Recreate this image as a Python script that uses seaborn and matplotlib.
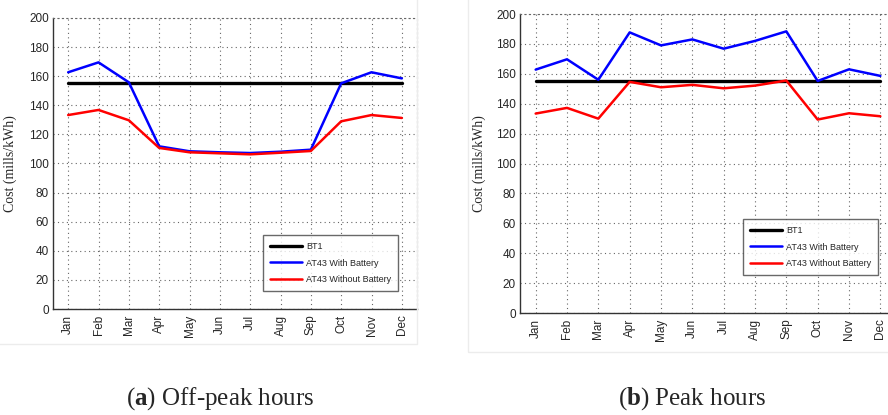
import numpy as np
import pandas as pd
import matplotlib
matplotlib.use("Agg")
import matplotlib.pyplot as plt
import seaborn as sns
from matplotlib.patches import Rectangle

# Monthly cost values (mills/kWh)
months = ['Jan', 'Feb', 'Mar', 'Apr', 'May', 'Jun', 'Jul', 'Aug', 'Sep', 'Oct', 'Nov', 'Dec']
bt1 = [155] * 12

offpeak_with = [162.7, 169.5, 155.8, 111.8, 108.4, 107.7, 107.2, 108.1, 109.5, 155.1, 162.7, 158.5]
offpeak_without = [133.3, 136.8, 129.7, 110.7, 107.7, 107.0, 106.3, 107.4, 108.6, 129.0, 133.3, 131.3]

peak_with = [162.8, 169.7, 156.0, 187.7, 179.0, 183.0, 176.8, 182.0, 188.4, 155.2, 163.0, 158.6]
peak_without = [133.4, 137.2, 130.0, 154.6, 151.0, 152.6, 150.3, 152.1, 155.5, 129.4, 133.6, 131.6]

series_names = ['BT1', 'AT43 With Battery', 'AT43 Without Battery']
colors = ['#000000', '#0000ff', '#ff0000']

sns.set_style('white')
plt.rcParams['font.family'] = ['Liberation Sans', 'DejaVu Sans']
plt.rcParams['mathtext.fontset'] = 'custom'
plt.rcParams['mathtext.rm'] = 'Liberation Serif'
plt.rcParams['mathtext.bf'] = 'Liberation Serif:bold'

fig = plt.figure(figsize=(8.88, 4.15), dpi=100)

# faint frames around each sub-figure
fig.patches.append(Rectangle((-0.01, 1 - 344 / 415), 426 / 888, 344 / 415 + 0.02,
                             transform=fig.transFigure, fill=False, ec='#ececec', lw=1))
fig.patches.append(Rectangle((468 / 888, 1 - 352 / 415), 0.5, 352 / 415 + 0.02,
                             transform=fig.transFigure, fill=False, ec='#ececec', lw=1))


def make_panel(rect, with_b, without_b, legend_box, ylab_x):
    ax = fig.add_axes(rect)
    x = np.arange(1, 13)
    df = pd.DataFrame({'month': np.tile(x, 3),
                       'cost': bt1 + with_b + without_b,
                       'series': np.repeat(series_names, 12)})
    sns.lineplot(data=df, x='month', y='cost', hue='series', palette=colors,
                 hue_order=series_names, ax=ax, legend=False)
    for ln, lw in zip(ax.get_lines(), [2.4, 1.8, 1.8]):
        ln.set_linewidth(lw)
    ax.set_xlim(0.5, 12.5)
    ax.set_ylim(0, 200)
    ax.set_xticks(x)
    ax.set_xticklabels(months, rotation=90, fontsize=8.5)
    ax.set_yticks(np.arange(0, 201, 20))
    ax.tick_params(axis='y', labelsize=8.5, length=0, pad=3)
    ax.tick_params(axis='x', length=0, pad=4)
    ax.grid(True, linestyle=(0, (1, 3)), color='#666666', linewidth=0.8)
    ax.set_xlabel('')
    ax.set_ylabel('Cost (mills/kWh)', family=['Liberation Serif', 'DejaVu Serif'], fontsize=10)
    ax.yaxis.set_label_coords(ylab_x, 0.5)
    for side in ['top', 'right']:
        ax.spines[side].set_linestyle((0, (1, 3)))
        ax.spines[side].set_color('#666666')
        ax.spines[side].set_linewidth(0.8)
    for side in ['left', 'bottom']:
        ax.spines[side].set_color('#333333')
        ax.spines[side].set_linewidth(1.0)

    handles = ax.get_lines()[:3]
    leg = ax.legend(handles, series_names, loc='lower left', bbox_to_anchor=legend_box,
                    fontsize=6.5, frameon=True, fancybox=False, edgecolor='#444444',
                    handlelength=3.6, borderpad=0.75, labelspacing=0.85, handletextpad=0.45,
                    borderaxespad=0)
    leg.get_frame().set_linewidth(1.0)
    return ax


ax1 = make_panel([53 / 888, 1 - 309 / 415, 364 / 888, 291 / 415],
                 offpeak_with, offpeak_without, (210 / 364, 18 / 291), -0.1)
ax2 = make_panel([520 / 888, 1 - 313 / 415, 376 / 888, 299 / 415],
                 peak_with, peak_without, (223 / 376, 38 / 299), -0.09)

serif = ['Liberation Serif', 'DejaVu Serif']
fig.text(220 / 888, 1 - 399 / 415, r'($\mathbf{a}$) Off-peak hours', ha='center', va='center',
         fontsize=18, family=serif)
fig.text(692 / 888, 1 - 399 / 415, r'($\mathbf{b}$) Peak hours', ha='center', va='center',
         fontsize=18, family=serif)

fig.savefig('out.png', dpi=100)
